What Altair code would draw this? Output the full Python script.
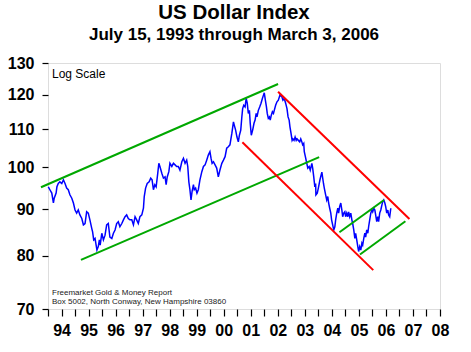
import altair as alt
import pandas as pd

years = [1993.51,1993.57,1993.64,1993.70,1993.73,1993.80,1993.83,1993.88,1993.94,1994.01,
1994.07,1994.13,1994.19,1994.25,1994.31,1994.38,1994.44,1994.50,1994.56,1994.62,
1994.68,1994.75,1994.81,1994.87,1994.93,1994.99,1995.05,1995.12,1995.15,1995.19,
1995.24,1995.28,1995.31,1995.36,1995.40,1995.43,1995.49,1995.55,1995.61,1995.67,
1995.73,1995.79,1995.86,1995.92,1995.98,1996.04,1996.10,1996.16,1996.23,1996.29,
1996.35,1996.41,1996.47,1996.53,1996.60,1996.66,1996.72,1996.78,1996.84,1996.90,
1996.97,1997.03,1997.06,1997.11,1997.17,1997.24,1997.30,1997.35,1997.40,1997.45,
1997.50,1997.56,1997.60,1997.64,1997.71,1997.77,1997.83,1997.87,1997.91,1997.97,
1998.01,1998.08,1998.14,1998.20,1998.26,1998.32,1998.38,1998.45,1998.51,1998.57,
1998.63,1998.67,1998.71,1998.75,1998.79,1998.83,1998.88,1998.91,1998.96,1999.01,
1999.06,1999.12,1999.19,1999.25,1999.31,1999.37,1999.43,1999.49,1999.53,1999.57,
1999.62,1999.68,1999.74,1999.80,1999.86,1999.93,1999.99,2000.05,2000.11,2000.17,
2000.23,2000.30,2000.36,2000.39,2000.44,2000.49,2000.54,2000.58,2000.63,2000.67,
2000.70,2000.74,2000.79,2000.83,2000.87,2000.91,2000.95,2000.98,2001.02,2001.07,
2001.12,2001.16,2001.20,2001.23,2001.28,2001.33,2001.38,2001.43,2001.47,2001.50,
2001.54,2001.58,2001.61,2001.65,2001.69,2001.72,2001.76,2001.80,2001.84,2001.87,
2001.92,2001.97,2002.02,2002.08,2002.15,2002.19,2002.24,2002.29,2002.34,2002.38,
2002.42,2002.45,2002.49,2002.53,2002.56,2002.60,2002.64,2002.68,2002.71,2002.76,
2002.81,2002.85,2002.89,2002.92,2002.96,2002.98,2003.02,2003.06,2003.11,2003.16,
2003.20,2003.26,2003.29,2003.33,2003.37,2003.40,2003.41,2003.46,2003.50,2003.56,
2003.63,2003.69,2003.72,2003.77,2003.81,2003.85,2003.88,2003.92,2003.96,2003.99,
2004.03,2004.07,2004.11,2004.14,2004.18,2004.22,2004.25,2004.29,2004.33,2004.37,
2004.40,2004.44,2004.48,2004.51,2004.55,2004.59,2004.62,2004.66,2004.70,2004.74,
2004.77,2004.81,2004.85,2004.88,2004.92,2004.96,2004.99,2005.03,2005.07,2005.11,
2005.14,2005.18,2005.22,2005.25,2005.29,2005.33,2005.36,2005.40,2005.44,2005.48,
2005.51,2005.55,2005.59,2005.62,2005.66,2005.70,2005.73,2005.77,2005.81,2005.85,
2005.88,2005.92,2005.96,2005.99,2006.03,2006.07,2006.10,2006.14,2006.18]

index_values = [95.2,94.5,93.7,91.4,92.5,93.7,95.2,96.0,96.4,96.0,
96.9,96.0,94.9,94.5,93.3,92.5,91.4,89.8,89.1,89.8,
88.7,87.9,86.5,86.8,89.4,89.1,87.6,85.7,85.0,83.3,
83.6,82.2,81.2,81.9,83.3,82.2,84.7,83.3,84.3,86.5,
86.8,83.9,83.6,84.7,85.4,86.8,87.2,86.1,86.8,87.6,
88.3,88.7,87.9,87.6,87.6,86.5,88.3,87.6,86.8,88.3,
88.7,90.2,92.9,94.9,96.0,96.4,97.3,96.9,94.5,95.7,
95.2,98.5,101.0,100.2,98.5,97.3,97.6,95.7,97.6,98.9,
101.0,100.2,101.0,100.6,100.2,100.2,99.3,101.4,102.3,101.0,
101.8,100.2,96.4,94.5,92.1,94.1,95.7,94.5,94.9,93.7,
94.5,96.9,98.9,100.2,100.6,101.8,103.1,104.0,102.3,101.0,
101.4,100.6,99.8,97.6,99.3,101.0,101.8,102.7,104.9,105.3,
105.8,108.9,112.1,111.2,109.8,107.9,106.6,108.4,109.8,113.5,
115.9,116.9,116.4,118.9,117.5,114.5,115.4,111.7,108.4,109.8,
111.7,112.6,114.5,113.5,115.4,116.4,117.5,118.9,119.9,120.6,
118.4,116.4,114.5,113.1,113.5,112.6,114.0,115.0,114.5,115.4,
116.9,117.9,118.4,119.9,119.4,118.4,118.9,117.5,115.9,113.5,
112.6,110.7,108.9,107.0,107.4,107.0,107.9,107.0,107.4,107.0,
106.6,107.4,106.6,105.8,106.2,104.0,102.7,101.4,99.8,100.2,
99.3,101.0,99.8,97.6,95.2,96.0,93.3,93.7,94.9,96.9,
98.8,96.0,94.9,93.3,92.1,92.9,91.4,90.2,89.1,87.6,
86.5,85.4,86.1,87.6,89.1,90.2,89.1,90.6,91.4,89.8,
88.3,89.1,89.4,88.3,89.1,88.3,89.4,88.3,89.1,87.6,
86.8,85.4,83.6,84.7,83.3,81.9,80.9,81.9,81.2,82.6,
82.2,83.6,84.7,83.9,85.4,84.7,86.1,87.6,89.1,89.8,
89.4,90.2,89.8,88.7,87.2,88.3,87.2,89.1,89.8,90.9,
91.7,92.1,91.4,90.6,89.1,89.8,88.7,88.3,90.2]

# Trend lines: id, colour group, start/end (year, value)
trend_ids = ["A", "A", "B", "B", "C", "C", "D", "D", "E", "E", "F", "F"]
trend_kind = ["up", "up", "up", "up", "down", "down", "down", "down", "up", "up", "up", "up"]
trend_years = [1993.24, 2002.01, 1994.72, 2003.53, 2002.01, 2006.87, 2000.69, 2005.53,
               2004.28, 2005.93, 2005.04, 2006.72]
trend_values = [95.1, 123.3, 79.2, 102.6, 120.9, 87.8, 106.5, 77.2,
                84.9, 92.1, 80.3, 87.3]

y_ticks = [70, 80, 90, 100, 110, 120, 130]
x_ticks = [1993.5 + 0.5 * i for i in range(30)]

FONT = "Liberation Sans"

df = pd.DataFrame({"year": years, "value": index_values})
tr = pd.DataFrame({"id": trend_ids, "kind": trend_kind, "year": trend_years, "value": trend_values})

xscale = alt.Scale(domain=[1993.5, 2008.0], nice=False, zero=False)
yscale = alt.Scale(type="log", domain=[70, 130], nice=False)

xaxis = alt.Axis(values=x_ticks, title=None, grid=False, domain=False,
                 tickSize=7, tickColor="black", tickWidth=1.2,
                 labelExpr="datum.value % 1 == 0 ? substring(toString(datum.value), 2, 4) : ''",
                 labelFont=FONT, labelFontSize=16, labelFontWeight="bold", labelColor="black",
                 labelPadding=6, labelOverlap=False, labelFlush=False)
yaxis = alt.Axis(values=y_ticks, title=None, grid=False, domain=False,
                 tickSize=6, tickColor="black", tickWidth=1.2,
                 labelFont=FONT, labelFontSize=16, labelFontWeight="bold", labelColor="black",
                 labelPadding=8, labelOverlap=False, labelFlush=False, format="d")

line = alt.Chart(df).mark_line(color="#0000FF", strokeWidth=1.5).encode(
    x=alt.X("year:Q", scale=xscale, axis=xaxis),
    y=alt.Y("value:Q", scale=yscale, axis=yaxis),
)

trends = alt.Chart(tr).mark_line(strokeWidth=2).encode(
    x=alt.X("year:Q", scale=xscale, axis=xaxis),
    y=alt.Y("value:Q", scale=yscale, axis=yaxis),
    detail="id:N",
    color=alt.Color("kind:N", scale=alt.Scale(domain=["up", "down"], range=["#00A800", "#FF0000"]), legend=None),
)

log_note = alt.Chart(pd.DataFrame({"t": ["Log Scale"]})).mark_text(
    font=FONT, fontSize=12, align="left", baseline="alphabetic", color="black"
).encode(text="t:N", x=alt.value(4), y=alt.value(15))

src1 = alt.Chart(pd.DataFrame({"t": ["Freemarket Gold & Money Report"]})).mark_text(
    font=FONT, fontSize=8, align="left", baseline="alphabetic", color="#222222"
).encode(text="t:N", x=alt.value(4), y=alt.value(231.5))

src2 = alt.Chart(pd.DataFrame({"t": ["Box 5002, North Conway, New Hampshire 03860"]})).mark_text(
    font=FONT, fontSize=8, align="left", baseline="alphabetic", color="#222222"
).encode(text="t:N", x=alt.value(4), y=alt.value(240.5))

chart = alt.layer(line, trends, log_note, src1, src2).properties(
    width=392, height=246,
    title=alt.TitleParams(
        text="US Dollar Index",
        subtitle="July 15, 1993 through March 3, 2006",
        font=FONT, fontSize=20.5, fontWeight="bold", color="black",
        subtitleFont=FONT, subtitleFontSize=17, subtitleFontWeight="bold", subtitleColor="black",
        subtitlePadding=4, anchor="middle", frame="group", dx=-10, offset=12,
    ),
    autosize=alt.AutoSizeParams(type="none"),
    padding={"left": 48, "top": 63, "right": 31, "bottom": 43},
).configure_view(
    stroke="black", strokeWidth=1.6
).configure(background="white")

chart.save("out.html", embed_options={"renderer": "svg", "actions": False})
